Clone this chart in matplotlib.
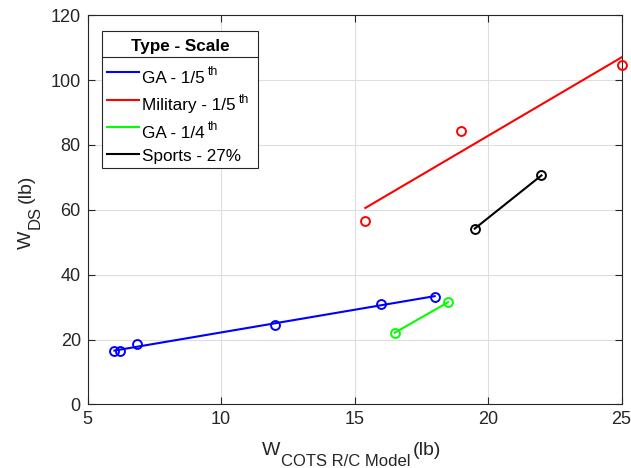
import numpy as np
import matplotlib
matplotlib.use("Agg")
import matplotlib.pyplot as plt
from matplotlib.lines import Line2D
from matplotlib.patches import Rectangle
from matplotlib.transforms import IdentityTransform

plt.rcParams['font.family'] = ['Liberation Sans', 'DejaVu Sans']

# Data
ga5_x = [6.0, 6.2, 6.85, 12.0, 16.0, 18.0]
ga5_y = [16.4, 16.4, 18.7, 24.6, 31.0, 33.2]
mil5_x = [15.4, 19.0, 25.0]
mil5_y = [56.6, 84.3, 104.6]
ga4_x = [16.5, 18.5]
ga4_y = [22.1, 31.5]
sp_x = [19.5, 22.0]
sp_y = [54.2, 70.6]

legend_title = 'Type - Scale'
label_main = ['GA - 1/5', 'Military - 1/5', 'GA - 1/4', 'Sports - 27%']
label_sup = ['th', 'th', 'th', '']
colors = ['#0000ff', '#ff0000', '#00ff00', '#000000']
series = [(ga5_x, ga5_y), (mil5_x, mil5_y), (ga4_x, ga4_y), (sp_x, sp_y)]

TXT = '#262626'
W, H = 631, 468
fig = plt.figure(figsize=(W / 100, H / 100), dpi=100)
ax = fig.add_axes([0.139, 0.1357, 0.846, 0.832])

for (xs, ys), c in zip(series, colors):
    xs = np.array(xs); ys = np.array(ys)
    ax.plot(xs, ys, 'o', mfc='none', mec=c, mew=1.4, ms=6.4, zorder=3, clip_on=False)
    p = np.polyfit(xs, ys, 1)
    xl = np.array([xs.min(), xs.max()])
    ax.plot(xl, np.polyval(p, xl), '-', color=c, lw=1.5, zorder=3)

ax.set_xlim(5, 25)
ax.set_ylim(0, 120)
ax.set_xticks([5, 10, 15, 20, 25])
ax.set_yticks([0, 20, 40, 60, 80, 100, 120])
ax.grid(True, color='#dedede', lw=0.8)
ax.set_axisbelow(True)
ax.tick_params(direction='in', top=True, right=True, labelsize=13, colors=TXT,
               length=5, width=0.8, pad=5)
for s in ax.spines.values():
    s.set_color(TXT)
    s.set_linewidth(0.8)

ID = IdentityTransform()

def P(x, ytop):
    """pixel position measured from the top-left corner -> display coords"""
    return x, H - ytop

def ptext(x, ytop, s, **kw):
    X, Y = P(x, ytop)
    return fig.text(X, Y, s, transform=ID, **kw)

fig.canvas.draw()
r = fig.canvas.get_renderer()

# ---- axis labels (main text + subscript, MATLAB style)
MAIN, SUB = 14, 12
# x label
t = ptext(262.3, 454.7, 'W', fontsize=MAIN, color=TXT, ha='left', va='baseline')
x1 = t.get_window_extent(r).x1
t2 = fig.text(x1 + 0.5, H - 465.5, 'COTS R/C Model', transform=ID, fontsize=SUB, color=TXT,
              ha='left', va='baseline')
x2 = t2.get_window_extent(r).x1
fig.text(x2 + 2, H - 454.7, '(lb)', transform=ID, fontsize=MAIN, color=TXT,
         ha='left', va='baseline')

# y label (rotated)
ty = fig.text(30.7, H - 249.3, 'W', transform=ID, fontsize=MAIN, color=TXT, rotation=90,
              ha='left', va='baseline', rotation_mode='anchor')
y1 = ty.get_window_extent(r).y1
ty2 = fig.text(40.0, y1 + 1.5, 'DS', transform=ID, fontsize=SUB, color=TXT, rotation=90,
               ha='left', va='baseline', rotation_mode='anchor')
y2 = ty2.get_window_extent(r).y1
fig.text(30.7, y2 + 3.5, '(lb)', transform=ID, fontsize=MAIN, color=TXT, rotation=90,
         ha='left', va='baseline', rotation_mode='anchor')

# ---- legend box, like MATLAB's legend with a title
bx0, bx1, by0, by1 = 102.3, 258.3, 30.5, 168.0
fig.add_artist(Rectangle((bx0, H - by1), bx1 - bx0, by1 - by0, transform=ID,
                         facecolor='white', edgecolor=TXT, lw=0.8, zorder=5))
ptext((bx0 + bx1) / 2, 50.7, legend_title, fontsize=12.3, fontweight='bold', color='black',
      ha='center', va='baseline', zorder=6)
fig.add_artist(Line2D([bx0, bx1], [H - 57.3, H - 57.3], transform=ID, color=TXT, lw=0.8, zorder=6))

line_y = [72.3, 99.7, 127.0, 154.0]
base_y = [83.0, 110.3, 138.0, 161.3]
for c, ly, by, m, sup in zip(colors, line_y, base_y, label_main, label_sup):
    fig.add_artist(Line2D([106.7, 139.3], [H - ly, H - ly], transform=ID, color=c, lw=1.5, zorder=6))
    tm = ptext(142.5, by, m, fontsize=12.3, color='black', ha='left', va='baseline', zorder=6)
    if sup:
        xe = tm.get_window_extent(r).x1
        fig.text(xe + 3.0, H - (by - 7.7), sup, transform=ID, fontsize=8.8, color='black',
                 ha='left', va='baseline', zorder=6)

fig.savefig('out.png', dpi=100)
